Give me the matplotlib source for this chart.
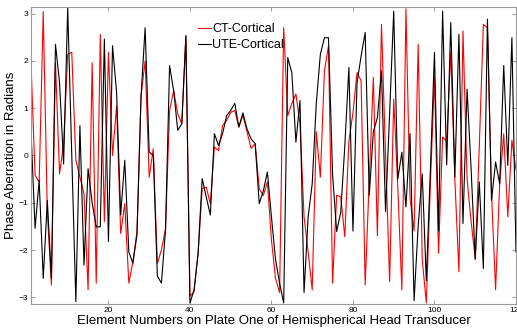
import numpy as np
import matplotlib.pyplot as plt

plt.rcParams['font.family'] = ['Liberation Sans', 'DejaVu Sans']

# element numbers 1..120
elements = np.arange(1, 121)

ct_cortical = [
    1.93, -0.42, -0.56, 3.04, -1.2, -2.74, 1.96, -0.39, 0.25, 2.14,
    2.18, -0.1, -0.46, -0.81, -2.84, 1.96, -2.7, 2.56, -1.4, 2.18,
    0.0, 1.05, -1.65, -1.02, -2.7, -2.25, -1.61, 1.26, 2.0, -0.46,
    0.14, -2.28, -2.0, -1.55, 0.95, 1.37, 0.88, 0.67, 2.53, -2.98,
    -2.88, -2.07, -0.7, -0.67, -1.02, 0.18, 0.1, 0.63, 0.74, 0.91,
    0.95, 0.6, 0.85, 0.5, 0.15, 0.25, -0.7, -0.85, -0.56, -1.79,
    -2.6, -2.9, 2.7, 0.84, 1.1, 1.3, 0.67, -1.3, -2.04, -2.84,
    0.5, -0.46, 1.79, 2.32, -2.7, -0.84, -0.88, -1.72, 0.3, 0.9,
    1.75, 1.58, -2.74, -0.5, 1.65, -1.7, 2.77, 0.0, -2.67, 1.19,
    -0.67, -2.84, 3.1, -0.9, -1.6, 2.35, -2.2, -3.12, -0.6, 1.65,
    -2.07, 0.39, 0.3, 2.2, -0.5, -2.46, 2.63, -0.5, -1.4, -2.18,
    0.2, 2.77, 2.7, -0.8, -2.84, -0.6, 0.46, -1.3, 0.32, -0.3,
]

ute_cortical = [
    0.5, -1.54, -0.53, -2.6, -0.95, -2.6, 2.35, 1.54, -0.18, 3.12,
    0.0, -3.09, 0.63, -2.32, -0.28, -1.0, -1.51, -1.51, 2.46, -1.82,
    2.32, 1.33, -1.26, -0.1, -2.04, -2.28, -1.68, 1.26, 2.7, 0.07,
    0.0, -2.55, -2.7, -1.58, 1.9, 1.37, 0.53, 0.67, 2.53, -3.12,
    -2.85, -2.07, -0.49, -0.88, -1.26, 0.46, 0.21, 0.46, 0.84, 0.95,
    1.1, 0.6, 0.9, 0.56, 0.35, 0.25, -1.02, -0.75, -0.35, -1.3,
    -2.2, -2.7, -3.12, 2.07, 1.75, 0.28, 1.16, -2.9, -1.3, -0.6,
    1.1, 2.14, 2.49, 2.49, -0.4, -1.61, -1.2, 0.2, 1.86, -1.6,
    1.54, 2.1, 2.6, -0.84, 0.5, 0.8, 1.79, -1.19, 0.9, 3.05,
    -0.5, 0.07, -1.09, 0.46, -3.07, -1.5, -0.39, -2.65, -0.3, 2.18,
    -1.6, 3.05, -0.2, 2.81, -0.46, 2.56, -1.44, 1.4, -0.3, -2.2,
    -0.56, -2.39, 2.88, -0.95, -0.14, -0.6, 1.9, -0.21, 2.49, -2.04,
]

fig = plt.figure(figsize=(5.17, 3.30), dpi=100)
ax = fig.add_axes([0.06, 0.079, 0.938, 0.9])

ax.plot(elements, ct_cortical, color="red", linewidth=0.8, label="CT-Cortical")
ax.plot(elements, ute_cortical, color="black", linewidth=0.8, label="UTE-Cortical")

ax.set_xlim(1, 120)
ax.set_ylim(-3.14, 3.14)
ax.set_xticks([20, 40, 60, 80, 100, 120])
ax.set_yticks([-3, -2, -1, 0, 1, 2, 3])
ax.tick_params(direction="in", top=True, right=True, labelsize=6,
               length=3, width=0.6, color="#888888", pad=2)
for s in ax.spines.values():
    s.set_color("#999999")
    s.set_linewidth(0.8)

ax.set_xlabel("Element Numbers on Plate One of Hemispherical Head Transducer",
              fontsize=9.5, labelpad=1)
ax.set_ylabel("Phase Aberration in Radians", fontsize=9.5, labelpad=1)

ax.legend(loc="upper left", bbox_to_anchor=(0.345, 0.945), frameon=False,
          fontsize=9, handlelength=1.0, handletextpad=0.1, labelspacing=0.3,
          borderpad=0, borderaxespad=0)

fig.savefig("out.png", dpi=100)
